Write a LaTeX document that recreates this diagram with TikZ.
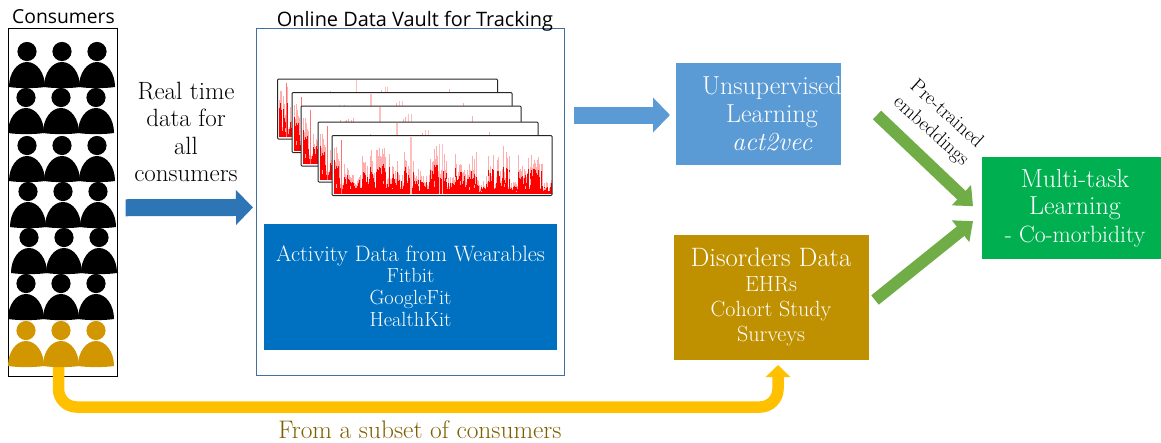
\documentclass[tikz,border=0pt]{standalone}
\usepackage{fontspec}
\newfontfamily\uifont{Open Sans}
\usetikzlibrary{arrows.meta,calc}
\definecolor{arrowblue}{HTML}{2E75B6}
\definecolor{vaultline}{HTML}{41719C}
\definecolor{boxblue}{HTML}{0070C0}
\definecolor{lightblue}{HTML}{5B9BD5}
\definecolor{gold}{HTML}{BF9000}
\definecolor{persongold}{HTML}{D29700}
\definecolor{boxgreen}{HTML}{00B050}
\definecolor{arrowgreen}{HTML}{70AD47}
\definecolor{amber}{HTML}{FFC000}
\definecolor{subsettext}{HTML}{7F6000}
\newcommand{\fsz}[2]{\fontsize{#1}{#2}\selectfont}
\newcommand{\heavier}{\addfontfeature{FakeBold=1}}
\newcommand{\slightly}{\addfontfeature{FakeBold=0.5}}
\tikzset{
  colorbox/.style={minimum width=#1,anchor=north west,inner sep=0pt},
  boxtext/.style={inner sep=0pt,text=white,align=center},
  blockarrow/.style={line width=17pt,-{Triangle[width=34pt,length=17pt]}},
  greenarrow/.style={draw=arrowgreen,line width=12pt,-{Triangle[width=27pt,length=16pt]}},
  person/.pic={
    \fill[pic actions] (0,-35.5) circle (9.6);
    \fill[pic actions] (-18,0) .. controls (-18,-14) and (-10,-25) .. (0,-25)
       .. controls (10,-25) and (18,-14) .. (18,0)
       .. controls (8,1.5) and (-8,1.5) .. (-18,0) -- cycle;
  },
  chart/.pic={
    \fill[white] (0,0) rectangle (220,60);
    \pgfmathsetseed{4711}
    \foreach \i in {0,...,310}{
      \pgfmathsetmacro{\px}{2+\i*0.7}
      \pgfmathsetmacro{\k}{int(\i*0.7/8)}
      \pgfmathsetmacro{\env}{{35,20,12,25,28,28,30,22,28,22,14,14,30,25,12,28,18,25,8,26,24,28,8,22,26,25,8,25}[\k]}
      \pgfmathsetmacro{\ra}{(0.15+0.85*rnd)*\env}
      \pgfmathsetmacro{\rb}{min(\ra*(1.2+0.6*rnd),50)}
      \draw[red!32,line width=.8pt] (\px,58) -- ++(0,-\rb);
      \draw[red,line width=.85pt] (\px,58) -- ++(0,-\ra);
    }
    \draw[red!55,line width=.8pt] (9,58) -- (9,4);
    \draw[red!25,line width=1.5pt] (79,58) -- (79,1);
    \draw[red!25,line width=.9pt] (107.5,58) -- (107.5,8) (110,58) -- (110,8);
    \draw[black!85,line width=1pt,rounded corners=1pt] (0,0) rectangle (220,60);
  }
}
\begin{document}
\begin{tikzpicture}[x=1pt,y=-1pt]
\useasboundingbox (0,0) rectangle (1161,442);
% consumers
\node[draw=black,line width=.9pt,minimum width=108.5pt,minimum height=348pt,inner sep=0,anchor=north west] (consumers) at (8.3,28.3) {};
\node[font=\uifont\fsz{19.3}{24},anchor=base,text=black] (consumerstitle) at (63.5,23) {Consumers};
\foreach \y/\x in {87/27,133/26,181/27,227/28,273/29,319/26}{
  \foreach \d in {0,35,70}{
    \pic[black] at (\x+\d,\y) {person};
  }
}
\coordinate (ys) at (58.5,362);
\coordinate (ye) at (778,365);
\draw[amber,line width=11.5pt,rounded corners=18pt,-{Triangle[width=24pt,length=12pt]}] (ys) -- (ys |- 0,407) -- (ye |- 0,407) -- (ye);
\foreach \d in {0,35,70}{
  \pic[persongold] at (26+\d,366) {person};
}
% vault
\node[draw=vaultline,line width=.9pt,minimum width=308pt,minimum height=347pt,inner sep=0,anchor=north west] (vault) at (256,27.5) {};
\node[font=\uifont\fsz{19.9}{24},anchor=base,text=black] (vaulttitle) at (415,26) {Online Data Vault for Tracking};
\pic at (277.5,79) {chart};
\pic at (292,92.5) {chart};
\pic at (301,106) {chart};
\pic at (318,122) {chart};
\pic at (332,135.5) {chart};
\node[fill=boxblue,colorbox=293pt,minimum height=126pt] (activity) at (264,224) {};
\node[boxtext,font=\fsz{20.5}{21.7}\slightly] (activitytext) at (410.5,286) {\fsz{22.3}{21.7}\heavier Activity Data from Wearables\\Fitbit\\GoogleFit\\HealthKit};
% right boxes
\node[fill=lightblue,colorbox=165pt,minimum height=102pt] (unsup) at (676,63) {};
\node[boxtext,font=\fsz{26}{28}\slightly] (unsuptext) at (772,114) {Unsupervised\\Learning\\\itshape act2vec};
\node[fill=gold,colorbox=195pt,minimum height=125pt] (disorders) at (674,235) {};
\node[boxtext,font=\fsz{22}{25}] (disorderstext) at (771,297) {\fsz{26.6}{25}\heavier Disorders Data\\EHRs\\Cohort Study\\Surveys};
\node[fill=boxgreen,colorbox=179pt,minimum height=102pt] (mtl) at (982,157) {};
\node[boxtext,font=\fsz{26}{27.5}\slightly] (mtltext) at (1075,208) {Multi-task\\Learning\\\fsz{23.6}{27.5}\slightly - Co-morbidity};
% labels
\node[font=\fsz{25}{27.5},align=center,text=black] (rtlabel) at (186,132) {Real time\\data for\\all\\consumers};
\node[font=\fsz{20}{23},align=center,text=black,rotate=-42] (pretrained) at (938.5,123) {Pre-trained\\embeddings};
\node[font=\fsz{25.4}{28},text=subsettext] (subsetlabel) at (420,430) {From a subset of consumers};
% connectors
\coordinate (a1s) at ($(consumers.east)+(8,5)$);
\coordinate (a1e) at ($(vault.west)+(-3,6)$);
\draw[arrowblue,blockarrow] (a1s) -- (a1e);
\coordinate (a2s) at (574,115);
\coordinate (a2e) at ($(unsup.west |- a2s)+(-6,0)$);
\draw[lightblue,blockarrow] (a2s) -- (a2e);
\coordinate (g1s) at (877,115);
\coordinate (g1e) at ($(mtl.west)+(-9,-2)$);
\draw[greenarrow] (g1s) -- (g1e);
\coordinate (g2s) at (875,300);
\coordinate (g2e) at ($(mtl.west)+(-9,13)$);
\draw[greenarrow] (g2s) -- (g2e);
\end{tikzpicture}
\end{document}
